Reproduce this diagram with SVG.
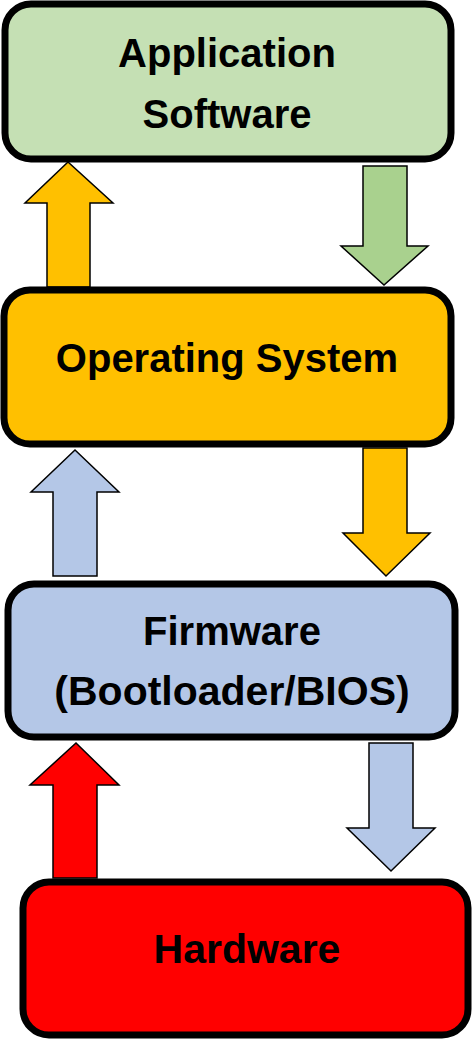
<svg xmlns="http://www.w3.org/2000/svg" width="474" height="1041" viewBox="0 0 474 1041">
<style>
.box{stroke:#000;stroke-width:7}
.arr{stroke:#000;stroke-width:1.5;stroke-linejoin:miter}
.lbl{font-family:"Liberation Sans",Arial,sans-serif;font-weight:bold;font-size:40px;fill:#000;text-anchor:middle}
.big{font-size:41px}
</style>
<rect width="474" height="1041" fill="#fff"/>
<g id="connectors">
<polygon class="arr" fill="#FFC000" points="47,287 47,203 25,203 68,162 113,203 90,203 90,287"/>
<polygon class="arr" fill="#A9D18E" points="363,166 407,166 407,246 428,246 384,285 341,246 363,246"/>
<polygon class="arr" fill="#B4C7E7" points="53,576 53,492 31,492 75,450 119,492 97,492 97,576"/>
<polygon class="arr" fill="#FFC000" points="363,448 407,448 407,533 430,533 386,576 343,533 363,533"/>
<polygon class="arr" fill="#FF0000" points="53,878 53,785 30,785 76,743 119,785 97,785 97,878"/>
<polygon class="arr" fill="#B4C7E7" points="369,743 413,743 413,828 435,828 391,871 347,828 369,828"/>
</g>
<g id="app">
<rect class="box" x="5" y="4" width="446" height="155" rx="26" fill="#C5E0B4"/>
<text class="lbl" x="227" y="67">Application</text>
<text class="lbl" x="227" y="128">Software</text>
</g>
<g id="os">
<rect class="box" x="4" y="290" width="447" height="154" rx="26" fill="#FFC000"/>
<text class="lbl" x="227" y="372">Operating System</text>
</g>
<g id="firmware">
<rect class="box" x="8" y="584" width="447" height="153" rx="26" fill="#B4C7E7"/>
<text class="lbl" x="232" y="645">Firmware</text>
<text class="lbl big" x="232" y="705">(Bootloader/BIOS)</text>
</g>
<g id="hardware">
<rect class="box" x="23" y="882" width="445" height="153" rx="26" fill="#FF0000"/>
<text class="lbl big" x="247" y="963">Hardware</text>
</g>
</svg>
